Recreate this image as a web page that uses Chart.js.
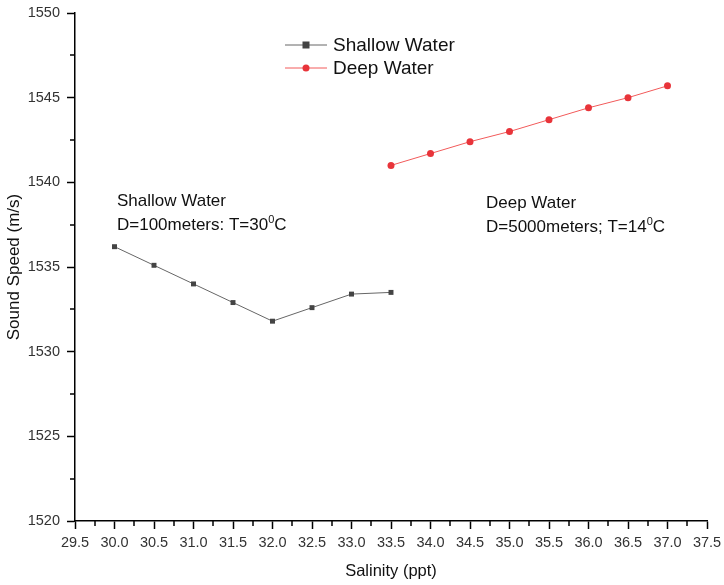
<!DOCTYPE html>
<html>
<head>
<meta charset="utf-8">
<script src="https://cdn.jsdelivr.net/npm/chart.js@4/dist/chart.umd.min.js"></script>
<style>
  html, body { margin: 0; padding: 0; background: #fff; }
  #wrap { width: 724px; height: 585px; }
</style>
</head>
<body>
<div id="wrap"><canvas id="soundSpeed"></canvas></div>
<script>
const shallowSalinity = [30.0, 30.5, 31.0, 31.5, 32.0, 32.5, 33.0, 33.5]
const shallowSpeed = [1536.2, 1535.1, 1534.0, 1532.9, 1531.8, 1532.6, 1533.4, 1533.5]
const deepSalinity = [33.5, 34.0, 34.5, 35.0, 35.5, 36.0, 36.5, 37.0]
const deepSpeed = [1541.0, 1541.7, 1542.4, 1543.0, 1543.7, 1544.4, 1545.0, 1545.7]

const xTicks = { min: 29.5, max: 37.5, step: 0.5 }
const yTicks = { min: 1520, max: 1550, step: 5 }

const textColor = "#333"
const fontName = "'Liberation Sans', Arial, sans-serif"

function toPoints(xs, ys) {
  return xs.map((x, i) => ({ x: x, y: ys[i] }))
}

// minor ticks, legend and the two notes
const extras = {
  id: "extras",
  afterDraw(chart) {
    const ctx = chart.ctx
    const xs = chart.scales.x
    const ys = chart.scales.y
    ctx.save()
    ctx.strokeStyle = "#000"
    ctx.lineWidth = 1.5
    for (let v = xTicks.min + xTicks.step / 2; v < xTicks.max; v += xTicks.step) {
      const px = Math.round(xs.getPixelForValue(v))
      ctx.beginPath()
      ctx.moveTo(px, ys.bottom)
      ctx.lineTo(px, ys.bottom + 5)
      ctx.stroke()
    }
    for (let v = yTicks.min + yTicks.step / 2; v < yTicks.max; v += yTicks.step) {
      const py = Math.round(ys.getPixelForValue(v))
      ctx.beginPath()
      ctx.moveTo(xs.left, py)
      ctx.lineTo(xs.left - 5, py)
      ctx.stroke()
    }

    // legend
    const items = chart.data.datasets
    items.forEach((ds, i) => {
      const y = 45 + i * 23
      ctx.strokeStyle = ds.borderColor
      ctx.lineWidth = 1
      ctx.beginPath()
      ctx.moveTo(285, y)
      ctx.lineTo(327, y)
      ctx.stroke()
      ctx.fillStyle = ds.pointBackgroundColor
      if (ds.pointStyle === "rect") {
        ctx.fillRect(302.5, y - 3.5, 7, 7)
      } else {
        ctx.beginPath()
        ctx.arc(306, y, 3.5, 0, Math.PI * 2)
        ctx.fill()
      }
      ctx.fillStyle = "#111"
      ctx.font = "19px " + fontName
      ctx.textBaseline = "middle"
      ctx.textAlign = "left"
      ctx.fillText(ds.label, 333, y + 1)
    })

    // notes
    function note(x, y, title, pre, sup, post) {
      ctx.fillStyle = "#111"
      ctx.textBaseline = "alphabetic"
      ctx.textAlign = "left"
      ctx.font = "17px " + fontName
      ctx.fillText(title, x, y)
      const y2 = y + 24
      ctx.fillText(pre, x, y2)
      let w = ctx.measureText(pre).width
      ctx.font = "11px " + fontName
      ctx.fillText(sup, x + w, y2 - 7)
      w += ctx.measureText(sup).width
      ctx.font = "17px " + fontName
      ctx.fillText(post, x + w, y2)
    }
    note(117, 206, "Shallow Water", "D=100meters: T=30", "0", "C")
    note(486, 208, "Deep Water", "D=5000meters; T=14", "0", "C")
    ctx.restore()
  }
}

const ctx = document.getElementById("soundSpeed").getContext("2d")
const myChart = new Chart(ctx, {
  type: "line",
  data: {
    datasets: [{
      label: "Shallow Water",
      data: toPoints(shallowSalinity, shallowSpeed),
      borderColor: "#666",
      borderWidth: 1,
      pointStyle: "rect",
      pointRadius: 3.5,
      pointBackgroundColor: "#444",
      pointBorderWidth: 0,
    }, {
      label: "Deep Water",
      data: toPoints(deepSalinity, deepSpeed),
      borderColor: "#f25a5a",
      borderWidth: 1,
      pointStyle: "circle",
      pointRadius: 3.5,
      pointBackgroundColor: "#e8343a",
      pointBorderWidth: 0,
    }]
  },
  options: {
    responsive: true,
    maintainAspectRatio: false,
    animation: false,
    layout: { padding: { top: 13, right: 17, left: 0, bottom: 0 } },
    plugins: {
      legend: { display: false },
      tooltip: { enabled: false }
    },
    scales: {
      x: {
        type: "linear",
        min: xTicks.min,
        max: xTicks.max,
        afterFit: (scale) => {
          scale.height = 64
          scale.paddingLeft = 0
          scale.paddingRight = 0
        },
        border: { color: "#000", width: 1.5 },
        grid: { drawOnChartArea: false, color: "#000", tickLength: 8, tickWidth: 1.5 },
        ticks: {
          stepSize: xTicks.step,
          color: textColor,
          font: { family: fontName, size: 14.5 },
          padding: 5,
          maxRotation: 0,
          callback: (v) => v.toFixed(1)
        },
        title: {
          display: true,
          text: "Salinity (ppt)",
          color: "#111",
          font: { family: fontName, size: 16.5 },
          padding: { top: 2 }
        }
      },
      y: {
        min: yTicks.min,
        max: yTicks.max,
        afterFit: (scale) => {
          scale.width = 75
          scale.paddingTop = 0
          scale.paddingBottom = 0
        },
        border: { color: "#000", width: 1.5 },
        grid: { drawOnChartArea: false, color: "#000", tickLength: 8, tickWidth: 1.5 },
        ticks: {
          stepSize: yTicks.step,
          color: textColor,
          font: { family: fontName, size: 14.5 },
          padding: 7,
          callback: (v) => String(v)
        },
        title: {
          display: true,
          text: "Sound Speed (m/s)",
          color: "#111",
          font: { family: fontName, size: 17 },
          padding: { top: 4, bottom: 0 }
        }
      }
    }
  },
  plugins: [extras]
})
</script>
</body>
</html>
